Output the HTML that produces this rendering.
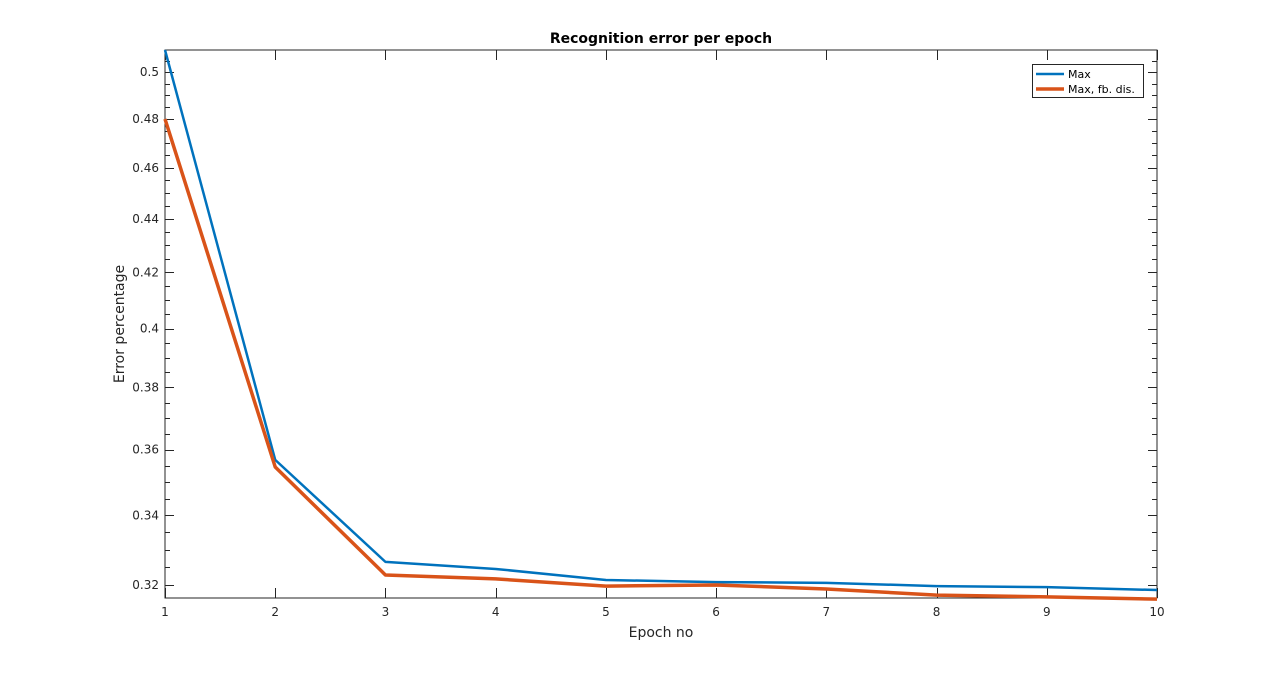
<!DOCTYPE html>
<html><head><meta charset="utf-8"><style>
body{margin:0;background:#fff;}
svg{display:block;font-family:"DejaVu Sans","Liberation Sans",sans-serif;}
</style></head><body>
<svg id="c" width="1280" height="673"></svg>
<script>
const epochs=[1,2,3,4,5,6,7,8,9,10];
const maxErr=[0.5097,0.3568,0.3265,0.3245,0.3214,0.3208,0.3206,0.3197,0.3194,0.3186];
const fbErr=[0.48,0.3546,0.3228,0.3217,0.3197,0.3200,0.3189,0.3172,0.3167,0.3161];
const yTicks=[0.32,0.34,0.36,0.38,0.4,0.42,0.44,0.46,0.48,0.5];
const yTickLabels=["0.32","0.34","0.36","0.38","0.4","0.42","0.44","0.46","0.48","0.5"];
const xTickLabels=["1","2","3","4","5","6","7","8","9","10"];
const L=165,R=1157,T=50,B=598,yMin=0.3164,yMax=0.5097;
const X=v=>L+(v-1)/9*(R-L);
const Y=v=>B-(Math.log(v)-Math.log(yMin))/(Math.log(yMax)-Math.log(yMin))*(B-T);
const svg=document.getElementById('c');const NS='http://www.w3.org/2000/svg';
function el(t,a,p){const e=document.createElementNS(NS,t);for(const k in a)e.setAttribute(k,a[k]);(p||svg).appendChild(e);return e;}
const box=el('rect',{x:L,y:T,width:R-L,height:B-T,fill:'#fff',stroke:'#262626','stroke-width':1});


const ticks=el('g',{stroke:'#262626','stroke-width':1});


for(let v=0.32;v<=0.51;v+=0.005){const y=Math.round(Y(v))+0.5;if(y<T||y>B)continue;const major=Math.abs(Math.round(v*50)-v*50)<1e-6;const len=major?9:5;
el('line',{x1:L,x2:L+len,y1:y,y2:y},ticks);el('line',{x1:R,x2:R-len,y1:y,y2:y},ticks);}
yTicks.forEach((v,i)=>{const t=el('text',{x:L-6,y:Y(v)+4,'text-anchor':'end','font-size':12,fill:'#262626'});t.textContent=yTickLabels[i];

});
epochs.forEach((e,i)=>{const x=Math.round(X(e))+0.5;el('line',{x1:x,x2:x,y1:B,y2:B-10},ticks);el('line',{x1:x,x2:x,y1:T,y2:T+10},ticks);
const t=el('text',{x:X(e),y:B+18,'text-anchor':'middle','font-size':12,fill:'#262626'});t.textContent=xTickLabels[i];

});
function line(d,c,w,n){const p=el('polyline',{points:d.map((v,i)=>X(epochs[i])+','+Y(v)).join(' '),fill:'none',stroke:c,'stroke-width':w,'stroke-linejoin':'round'});

}
line(maxErr,'#0072bd',2.5,'series-max');
line(fbErr,'#d95319',3.5,'series-max-fb-dis');
let t=el('text',{x:661,y:43,'text-anchor':'middle','font-size':14,'font-weight':'bold',fill:'#000'});t.textContent='Recognition error per epoch';


t=el('text',{x:661,y:637,'text-anchor':'middle','font-size':14,fill:'#262626'});t.textContent='Epoch no';


t=el('text',{x:124,y:324,'text-anchor':'middle','font-size':14,fill:'#262626',transform:'rotate(-90 124 324)'});t.textContent='Error percentage';


const lg=el('g',{});


el('rect',{x:1032.5,y:64.5,width:111,height:33,fill:'#fff',stroke:'#262626','stroke-width':1},lg);
el('line',{x1:1036,x2:1064,y1:74,y2:74,stroke:'#0072bd','stroke-width':2.5},lg);
el('line',{x1:1036,x2:1064,y1:89,y2:89,stroke:'#d95319','stroke-width':3.5},lg);
t=el('text',{x:1068,y:78,'font-size':11,fill:'#000'},lg);t.textContent='Max';


t=el('text',{x:1068,y:93,'font-size':11,fill:'#000'},lg);t.textContent='Max, fb. dis.';


</script>
</body></html>
